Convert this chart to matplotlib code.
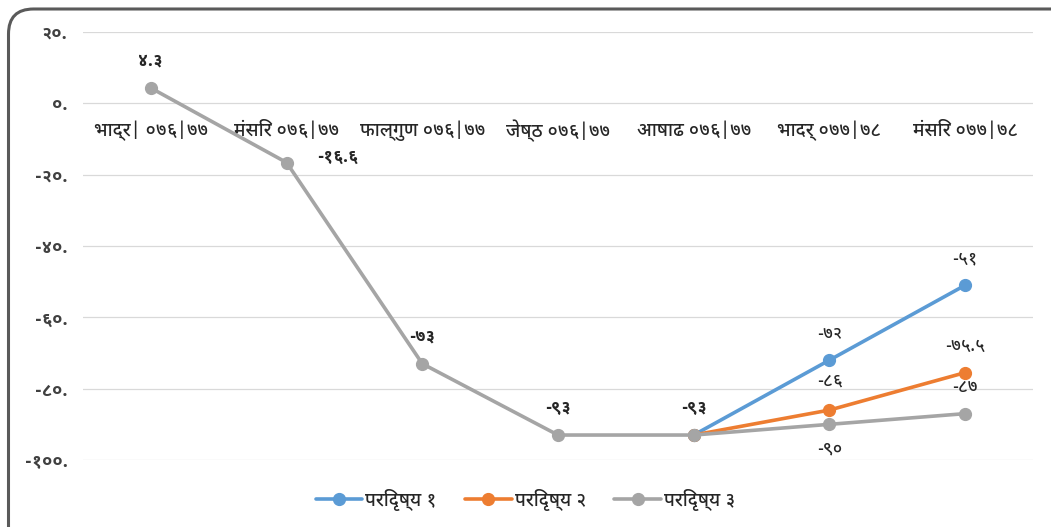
import numpy as np
import matplotlib
matplotlib.use("Agg")
import matplotlib.pyplot as plt
from matplotlib import font_manager as fm
from matplotlib.patches import FancyBboxPatch

# ---------------- data ----------------
categories = ["भाद्र| ०७६|७७", "मंसिर ०७६|७७", "फाल्गुण ०७६|७७", "जेष्ठ ०७६|७७",
              "आषाढ ०७६|७७", "भादर् ०७७|७८", "मंसिर ०७७|७८"]
series_names = ["परिदृष्य १", "परिदृष्य २", "परिदृष्य ३"]
scenario1 = [np.nan, np.nan, np.nan, np.nan, -93, -72, -51]
scenario2 = [np.nan, np.nan, np.nan, np.nan, -93, -86, -75.5]
scenario3 = [4.3, -16.6, -73, -93, -93, -90, -87]
labels1 = [None, None, None, None, None, "-७२", "-५१"]
labels2 = [None, None, None, None, None, "-८६", "-७५.५"]
labels3 = ["४.३", "-१६.६", "-७३", "-९३", "-९३", "-९०", "-८७"]
bold3 = [True, True, True, True, True, False, False]
yticks = [20, 0, -20, -40, -60, -80, -100]
ytick_labels = ["२०.", "०.", "-२०.", "-४०.", "-६०.", "-८०.", "-१००."]
colors = ["#5B9BD5", "#ED7D31", "#A5A5A5"]


def pick_font(prefs):
    names = {f.name for f in fm.fontManager.ttflist}
    for p in prefs:
        if p in names:
            return p
    return "DejaVu Sans"


deva = pick_font(["Noto Sans Devanagari UI", "Mukta", "Noto Sans Devanagari"])
plt.rcParams["font.family"] = [deva, "DejaVu Sans"]

W, H, DPI = 1051, 527, 100
fig = plt.figure(figsize=(W / DPI, H / DPI), dpi=DPI)
fig.patch.set_facecolor("white")

# outer rounded border (cropped screenshot of a chart object)
border = FancyBboxPatch((0.085, -0.6), 11.0, 5.27 - 0.09 + 0.6,
                        boxstyle="round,pad=0,rounding_size=0.25",
                        transform=fig.dpi_scale_trans, facecolor="none",
                        edgecolor="#5a5a5a", linewidth=2.2, zorder=0)
fig.patches.append(border)

ax = fig.add_axes([83 / W, (H - 460) / H, (1033 - 83) / W, (460 - 32) / H])
ax.set_facecolor("none")
x = np.arange(len(categories))

for vals, col, name in zip([scenario1, scenario2, scenario3], colors, series_names):
    ax.plot(x, vals, color=col, lw=2.6, marker="o", markersize=8.5,
            solid_capstyle="round", label=name, zorder=3)

ax.set_xlim(-0.5, len(categories) - 0.5)
ax.set_ylim(-100, 20)
ax.set_yticks(yticks)
ax.set_yticklabels(ytick_labels, fontsize=13, fontweight="bold", color="#404040")
ax.tick_params(axis="y", length=0, pad=11)
ax.set_xticks([])
ax.grid(axis="y", color="#D9D9D9", lw=0.9)
ax.set_axisbelow(True)
for s in ax.spines.values():
    s.set_visible(False)

# category labels next to the zero line
for i, c in enumerate(categories):
    ax.annotate(c, (i, 0), xytext=(0, -19.5), textcoords="offset points",
                ha="center", va="center", fontsize=13.5, fontweight="medium",
                color="#262626", annotation_clip=False)

# data labels
label_offsets = {(2, 1): (22, 4),    # keep the second label off the category text
                 (1, 5): (0, 21),
                 (2, 5): (0, -17)}   # below the grey point, clear of the others
for si, (vals, labs, bolds) in enumerate([(scenario1, labels1, [False] * 7),
                                          (scenario2, labels2, [False] * 7),
                                          (scenario3, labels3, bold3)]):
    for i, (v, l, b) in enumerate(zip(vals, labs, bolds)):
        if l is None:
            continue
        off = label_offsets.get((si, i), (0, 19.5))
        ax.annotate(l, (i, v), xytext=off, textcoords="offset points",
                    ha="left" if off[0] > 0 else "center", va="center",
                    fontsize=12.5, fontweight="bold" if b else "medium",
                    color="#262626", zorder=5)

fig.legend(loc="center", bbox_to_anchor=(0.5, 1 - 500 / H), ncol=3,
           frameon=False, handlelength=2.5, columnspacing=1.5,
           handletextpad=0.15, labelcolor="#262626",
           prop={"size": 13.5, "weight": "medium"})

fig.savefig("out.png", dpi=DPI)
